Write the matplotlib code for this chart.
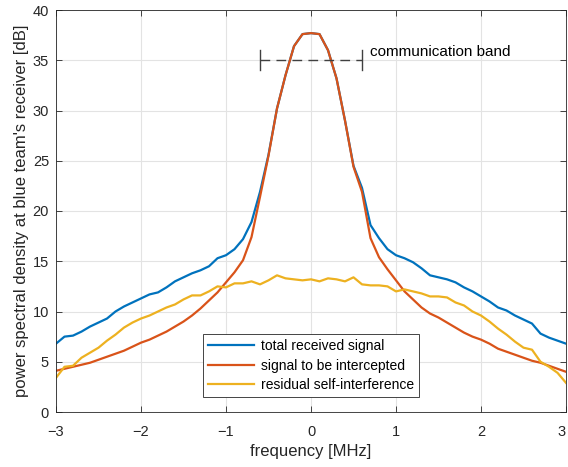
import numpy as np
import matplotlib
matplotlib.use("Agg")
import matplotlib.pyplot as plt

plt.rcParams['font.family'] = ['Liberation Sans', 'DejaVu Sans']

freq = np.round(np.arange(-3.0, 3.0001, 0.1), 1)

total = [6.8, 7.5, 7.6, 8.0, 8.5, 8.9, 9.3, 10.0, 10.5, 10.9,
         11.3, 11.7, 11.9, 12.4, 13.0, 13.4, 13.8, 14.1, 14.5, 15.3,
         15.6, 16.2, 17.2, 18.9, 21.9, 25.6, 30.2, 33.5, 36.4, 37.6,
         37.7, 37.6, 36.0, 33.2, 29.0, 24.5, 22.3, 18.6, 17.3, 16.2,
         15.6, 15.3, 14.9, 14.3, 13.6, 13.4, 13.2, 12.9, 12.4, 12.0,
         11.5, 11.0, 10.4, 10.1, 9.6, 9.2, 8.8, 7.8, 7.4, 7.1, 6.8]

signal = [4.1, 4.3, 4.5, 4.7, 4.9, 5.2, 5.5, 5.8, 6.1, 6.5,
          6.9, 7.2, 7.6, 8.0, 8.5, 9.0, 9.6, 10.3, 11.1, 11.9,
          12.9, 13.9, 15.1, 17.4, 21.4, 25.5, 30.2, 33.5, 36.4, 37.6,
          37.7, 37.6, 36.0, 33.2, 29.0, 24.4, 21.9, 17.3, 15.4, 14.2,
          13.1, 12.0, 11.2, 10.4, 9.8, 9.4, 8.9, 8.4, 7.9, 7.5,
          7.2, 6.8, 6.3, 6.0, 5.7, 5.4, 5.1, 4.9, 4.6, 4.3, 4.0]

residual = [3.4, 4.5, 4.6, 5.4, 5.9, 6.4, 7.1, 7.7, 8.4, 8.9,
            9.3, 9.6, 10.0, 10.4, 10.7, 11.2, 11.6, 11.6, 12.0, 12.5,
            12.4, 12.8, 12.8, 13.0, 12.7, 13.1, 13.6, 13.3, 13.2, 13.1,
            13.2, 13.0, 13.3, 13.2, 13.0, 13.4, 12.7, 12.6, 12.6, 12.5,
            12.0, 12.2, 12.0, 11.8, 11.5, 11.5, 11.4, 10.9, 10.6, 10.0,
            9.6, 9.0, 8.3, 7.7, 7.0, 6.4, 6.2, 5.0, 4.5, 3.9, 2.9]

labels = ['total received signal', 'signal to be intercepted',
          'residual self-interference']
colors = ['#0072BD', '#D95319', '#EDB120']

band_lo, band_hi, band_level, band_cap = -0.6, 0.6, 35, 1.0
band_text = 'communication band'

fig = plt.figure(figsize=(5.68, 4.67), dpi=100)
ax = fig.add_axes([56/568, 1-412/467, 510/568, 402/467])

for y, lab, c in zip([total, signal, residual], labels, colors):
    ax.plot(freq, y, color=c, lw=1.6, label=lab)

dark = '#404040'
ax.plot([band_lo, band_hi], [band_level, band_level], color=dark, lw=1.0,
        dashes=(7, 4.5))
for xb in (band_lo, band_hi):
    ax.plot([xb, xb], [band_level - band_cap, band_level + band_cap],
            color=dark, lw=1.0)
ax.text(band_hi + 0.1, band_level + 0.8, band_text, fontsize=11,
        color='black', va='center', ha='left')

ax.set_xlim(-3, 3)
ax.set_ylim(0, 40)
ax.set_xticks(np.arange(-3, 4, 1))
ax.set_yticks(np.arange(0, 41, 5))
ax.grid(True, color='#e3e3e3', lw=0.8)
ax.set_axisbelow(True)
ax.tick_params(direction='in', top=True, right=True, length=4,
               labelsize=10.5, colors='#262626', width=0.6)
ax.tick_params(axis='x', pad=9)
ax.tick_params(axis='y', pad=5)
for s in ax.spines.values():
    s.set_color('#262626')
    s.set_linewidth(0.6)

fig.canvas.draw()
ax.get_xticklabels()[-1].set_horizontalalignment('right')

ax.set_xlabel('frequency [MHz]', fontsize=12, color='#262626', labelpad=4)
ax.set_ylabel("power spectral density at blue team's receiver [dB]",
              fontsize=12, color='#262626', labelpad=3)

leg = ax.legend(loc='lower center', bbox_to_anchor=(0.5, 0.037),
                fancybox=False, framealpha=1, edgecolor='#262626',
                fontsize=10, handlelength=3.3, borderpad=0.35,
                labelspacing=0.4, handletextpad=0.5, borderaxespad=0)
leg.get_frame().set_linewidth(0.6)

fig.savefig('out.png', dpi=100)
